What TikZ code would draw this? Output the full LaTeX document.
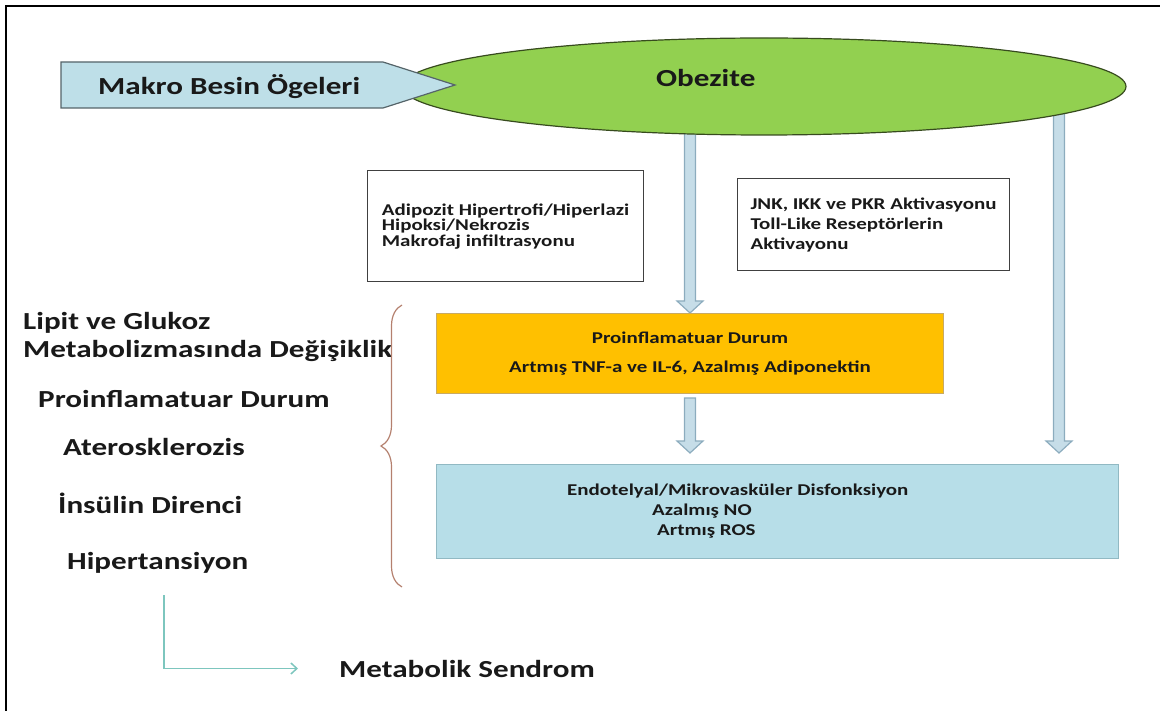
\documentclass[tikz,border=0pt]{standalone}
\usepackage{fontspec}
\setmainfont{Carlito}[FakeStretch=1.27]
\usepackage{tikz}
\usetikzlibrary{
    arrows.meta,
    calc,
    shapes.geometric,
    decorations.pathreplacing,
    backgrounds
}
\definecolor{inkdark}{RGB}{25,25,25}
\definecolor{obesity}{RGB}{146,208,80}
\definecolor{obesityedge}{RGB}{55,75,30}
\definecolor{nutrient}{RGB}{190,223,232}
\definecolor{nutrientedge}{RGB}{85,100,105}
\definecolor{arrowfill}{RGB}{198,221,232}
\definecolor{arrowedge}{RGB}{140,172,190}
\definecolor{proinf}{RGB}{255,192,0}
\definecolor{proinfedge}{RGB}{200,170,100}
\definecolor{endo}{RGB}{183,222,232}
\definecolor{endoedge}{RGB}{145,185,195}
\definecolor{bracecol}{RGB}{180,128,110}
\definecolor{synteal}{RGB}{125,198,190}

\tikzset{
    biglabel/.style={font=\fontsize{24.5}{29}\selectfont\bfseries, text=inkdark, inner sep=0pt, anchor=base west},
    boxtext/.style={font=\fontsize{16.5}{20}\selectfont\bfseries, text=inkdark, inner sep=0pt},
    whitebox/.style={draw=black!75, fill=white, line width=1.2pt, anchor=north west, align=left},
    blockarrow/.style={fill=arrowfill, draw=arrowedge, line width=1.2pt},
    synline/.style={draw=synteal, line width=1.5pt}
}

% hollow block arrow from #1 straight down to #2
\newcommand{\blockarrow}[2]{%
    \filldraw[blockarrow] let \p1=#1, \p2=#2 in
        (\x1-5.5pt,\y1) -- (\x1-5.5pt,\y2+12pt) -- (\x1-13pt,\y2+12pt) -- (\x1,\y2)
        -- (\x1+13pt,\y2+12pt) -- (\x1+5.5pt,\y2+12pt) -- (\x1+5.5pt,\y1) -- cycle;}

\begin{document}
\begin{tikzpicture}[x=1pt, y=-1pt]
    \useasboundingbox (0,0) rectangle (1160,711);

    % Frame
    \draw[line width=2.5pt] (6,711) -- (6,6) -- (1160,6);

    % Obesity ellipse
    \node[ellipse, draw=obesityedge, fill=obesity, line width=1.2pt,
          minimum width=724pt, minimum height=97pt, inner sep=0pt] (obez) at (764,86.5) {};
    \node[biglabel] (obeztxt) at (656,87) {Obezite};

    % Macro nutrients pentagon
    \draw[fill=nutrient, draw=nutrientedge, line width=1.2pt]
        (61,62) -- (383,62) -- (455,85) -- (383,108) -- (61,108) -- cycle;
    \node[biglabel] (makro) at (98,95) {Makro Besin Ögeleri};

    % Upper boxes
    \node[whitebox, boxtext, inner xsep=0pt, font=\fontsize{16.5}{15.5}\selectfont\bfseries,
          minimum width=276pt, minimum height=111pt] (adipo) at (367,170)
        {Adipozit Hipertrofi/Hiperlazi\\Hipoksi/Nekrozis\\Makrofaj infiltrasyonu};
    \node[whitebox, boxtext, minimum width=272pt, minimum height=92pt] (jnk) at (737,178)
        {JNK, IKK ve PKR Aktivasyonu\\Toll-Like Reseptörlerin\\Aktivayonu};

    % Proinflammatory state
    \node[boxtext, draw=proinfedge, fill=proinf, line width=1pt, anchor=north west, align=center,
          minimum width=507pt, minimum height=80pt] (orng) at (436,313)
        {Proinflamatuar Durum\\[9pt]Artmış TNF-a ve IL-6, Azalmış Adiponektin};

    % Endothelial dysfunction
    \node[draw=endoedge, fill=endo, line width=1pt, anchor=north west,
          minimum width=682pt, minimum height=94pt] (endo) at (436,464) {};
    \node[boxtext, align=left, anchor=west] (endotxt) at (567,511)
        {Endotelyal/Mikrovasküler Disfonksiyon\\\hspace*{85pt}Azalmış NO\\\hspace*{90pt}Artmış ROS};

    % Block arrows
    \begin{scope}[on background layer]
        \blockarrow{(orng.north |- obez.center)}{(orng.north)}
        \blockarrow{([yshift=-4pt]orng.south)}{($(orng.south |- endo.north)+(0,-11)$)}
        \blockarrow{($(endo.north east |- obez.center)+(-60,0)$)}{($(endo.north east)+(-60,-11)$)}
    \end{scope}

    % Left outcomes
    \node[biglabel] (lipit) at (23,330) {Lipit ve Glukoz};
    \node[biglabel] (metdeg) at (23,358) {Metabolizmasında Değişiklik};
    \node[biglabel] (proin) at (38,407) {Proinflamatuar Durum};
    \node[biglabel] (ater) at (63,455) {Aterosklerozis};
    \node[biglabel] (insul) at (58,513) {İnsülin Direnci};
    \node[biglabel] (hiper) at (67,569) {Hipertansiyon};

    % Brace
    \draw[bracecol, line width=1.2pt, decorate, decoration={brace, amplitude=21pt}]
        (402,587) -- (402,305);

    % Metabolic syndrome
    \node[biglabel] (metsend) at (339,677) {Metabolik Sendrom};
    \coordinate (lstart) at (164,595);
    \draw[synline, -{Straight Barb[length=6pt, width=11pt]}]
        (lstart) |- ([xshift=-41pt]metsend.west);
\end{tikzpicture}
\end{document}
